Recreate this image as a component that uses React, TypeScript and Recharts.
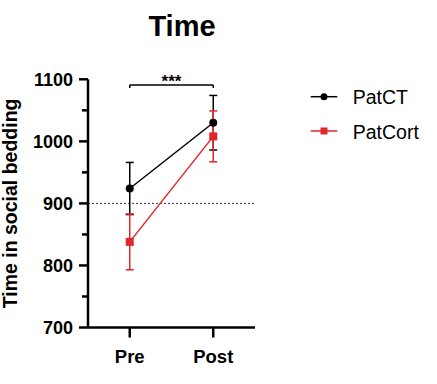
import React from 'react';
import { ComposedChart, Line, XAxis, YAxis, ErrorBar, ReferenceLine, Legend } from 'recharts';

const phases = ['Pre', 'Post'];
const patCT = [924, 1030];
const patCTErr = [42, 44];
const patCort = [838, 1008];
const patCortErr = [45, 41];
const yTicks = [700, 750, 800, 850, 900, 950, 1000, 1050, 1100];
const chanceLevel = 900;
const bracketY = 1091;
const bracketFoot = 1086;

const FONT = '"Liberation Sans", Arial, sans-serif';
const RED = '#e1262c';

const data = phases.map((phase, i) => ({
  x: i,
  phase,
  patCT: patCT[i],
  patCTErr: patCTErr[i],
  patCort: patCort[i],
  patCortErr: patCortErr[i],
}));

const YTick = (props: any) => {
  const { x, y, payload } = props;
  const major = payload.value % 100 === 0;
  return (
    <g>
      <line x1={x - (major ? 9 : 6)} x2={x} y1={y} y2={y} stroke="#000" strokeWidth={2.5} />
      {major && (
        <text x={x - 15} y={y + 6.5} textAnchor="end" fontFamily={FONT} fontWeight="bold" fontSize={18} fill="#000">
          {payload.value}
        </text>
      )}
    </g>
  );
};

const XTick = (props: any) => {
  const { x, y, payload } = props;
  return (
    <text x={x} y={y + 23} textAnchor="middle" fontFamily={FONT} fontWeight="bold" fontSize={18.5} fill="#000">
      {phases[payload.value]}
    </text>
  );
};

const YLabel = (props: any) => {
  const vb = props.viewBox;
  const cy = vb.y + vb.height / 2;
  return (
    <text
      x={17}
      y={cy}
      transform={`rotate(-90 17 ${cy})`}
      textAnchor="middle"
      fontFamily={FONT}
      fontWeight="bold"
      fontSize={19.5}
      fill="#000"
    >
      Time in social bedding
    </text>
  );
};

const CircleDot = (props: any) => {
  const { cx, cy } = props;
  return <circle cx={cx} cy={cy} r={4} fill="#000" />;
};

const SquareDot = (props: any) => {
  const { cx, cy } = props;
  return <rect x={cx - 4} y={cy - 4} width={8} height={8} fill={RED} />;
};

const LegendBox = () => (
  <svg width={132} height={70}>
    <line x1={5.7} x2={32.3} y1={16.7} y2={16.7} stroke="#000" strokeWidth={1.5} />
    <circle cx={19} cy={16.7} r={3.5} fill="#000" />
    <text x={47.7} y={23.5} fontFamily={FONT} fontSize={19.5} fill="#000">PatCT</text>
    <line x1={5.7} x2={32.3} y1={51} y2={51} stroke={RED} strokeWidth={1.5} />
    <rect x={15.5} y={47.5} width={7} height={7} fill={RED} />
    <text x={47.7} y={58.5} fontFamily={FONT} fontSize={19.5} fill="#000">PatCort</text>
  </svg>
);

export default function App() {
  return (
    <div style={{ position: 'absolute', left: 0, top: 0, width: 437, height: 384, background: '#fff' }}>
      <div
        style={{
          position: 'absolute',
          left: 0,
          width: 364,
          top: 8,
          textAlign: 'center',
          fontFamily: FONT,
          fontWeight: 'bold',
          fontSize: 29,
          lineHeight: '36px',
          color: '#000',
        }}
      >
        Time
      </div>
      <ComposedChart
        width={437}
        height={384}
        data={data}
        margin={{ top: 79.3, right: 182, bottom: 0, left: 0 }}
        style={{ position: 'absolute', left: 0, top: 0 }}
      >
        <XAxis
          dataKey="x"
          type="number"
          domain={[-0.5, 1.5]}
          ticks={[0, 1]}
          height={56.5}
          axisLine={{ stroke: '#000', strokeWidth: 2.5 }}
          tickLine={{ stroke: '#000', strokeWidth: 2.5 }}
          tickSize={10}
          tick={<XTick />}
        />
        <YAxis
          type="number"
          domain={[700, 1100]}
          ticks={yTicks}
          width={88}
          axisLine={{ stroke: '#000', strokeWidth: 2.5 }}
          tickLine={false}
          tickSize={0}
          tickMargin={0}
          tick={<YTick />}
          interval={0}
          label={<YLabel />}
        />
        <ReferenceLine y={chanceLevel} stroke="#333" strokeWidth={1} strokeDasharray="2 2" />
        <ReferenceLine
          segment={[{ x: 0, y: bracketY }, { x: 1, y: bracketY }]}
          stroke="#000"
          strokeWidth={1.5}
          ifOverflow="visible"
          label={{ value: '***', position: 'top', offset: -2, fontFamily: FONT, fontWeight: 'bold', fontSize: 17, fill: '#000' }}
        />
        <ReferenceLine segment={[{ x: 0, y: bracketY }, { x: 0, y: bracketFoot }]} stroke="#000" strokeWidth={1.5} ifOverflow="visible" />
        <ReferenceLine segment={[{ x: 1, y: bracketY }, { x: 1, y: bracketFoot }]} stroke="#000" strokeWidth={1.5} ifOverflow="visible" />
        <Legend
          layout="horizontal"
          verticalAlign="middle"
          align="center"
          content={<LegendBox />}
          wrapperStyle={{ position: 'absolute', left: 305, top: 80, width: 132, height: 70 }}
        />
        <Line
          dataKey="patCT"
          name="PatCT"
          stroke="#000"
          strokeWidth={1.5}
          dot={<CircleDot />}
          activeDot={false}
          isAnimationActive={false}
        >
          <ErrorBar dataKey="patCTErr" direction="y" width={4} stroke="#000" strokeWidth={1.5} isAnimationActive={false} />
        </Line>
        <Line
          dataKey="patCort"
          name="PatCort"
          stroke={RED}
          strokeWidth={1.5}
          dot={<SquareDot />}
          activeDot={false}
          isAnimationActive={false}
        >
          <ErrorBar dataKey="patCortErr" direction="y" width={4} stroke={RED} strokeWidth={1.5} isAnimationActive={false} />
        </Line>
      </ComposedChart>
    </div>
  );
}
